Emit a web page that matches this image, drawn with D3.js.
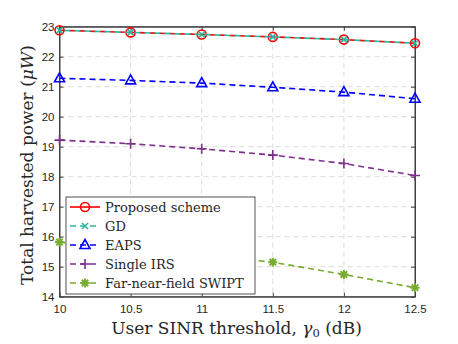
<!DOCTYPE html>
<html>
<head>
<meta charset="utf-8">
<script src="https://cdn.jsdelivr.net/npm/d3@7"></script>
<style>
  body { margin: 0; background: #fff; }
  svg text { fill: #262626; }
</style>
</head>
<body>
<div id="chart"></div>
<script>
(function() {
  'use strict';

  const sinr = [10, 10.5, 11, 11.5, 12, 12.5];
  const proposed = [22.88, 22.81, 22.74, 22.66, 22.57, 22.45];
  const gd = [22.88, 22.81, 22.74, 22.66, 22.57, 22.45];
  const eaps = [21.28, 21.21, 21.12, 20.98, 20.82, 20.6];
  const singleIrs = [19.22, 19.1, 18.93, 18.72, 18.44, 18.04];
  const farNear = [15.82, 15.6, 15.38, 15.15, 14.74, 14.3];
  const xTicks = [10, 10.5, 11, 11.5, 12, 12.5];
  const yTicks = [14, 15, 16, 17, 18, 19, 20, 21, 22, 23];

  const w = 458;
  const h = 344;
  const left = 59.5, right = 415, top = 26.7, bottom = 296.7;
  const serif = 'DejaVu Serif, serif';

  const xScale = d3.scaleLinear().domain([10, 12.5]).range([left, right]);
  const yScale = d3.scaleLinear().domain([14, 23]).range([bottom, top]);

  const svg = d3.select('#chart').append('svg')
    .attr('width', w)
    .attr('height', h);

  // grid
  const grid = svg.append('g');
  grid.selectAll('.gx').data(xTicks.slice(1, -1)).enter().append('line')
    .attr('x1', d => xScale(d)).attr('x2', d => xScale(d))
    .attr('y1', top).attr('y2', bottom)
    .attr('stroke', '#dcdcdc').attr('stroke-width', 1).attr('stroke-dasharray', '5,4');
  grid.selectAll('.gy').data(yTicks.slice(1, -1)).enter().append('line')
    .attr('x1', left).attr('x2', right)
    .attr('y1', d => yScale(d)).attr('y2', d => yScale(d))
    .attr('stroke', '#dcdcdc').attr('stroke-width', 1).attr('stroke-dasharray', '5,4');

  // axes
  const tickFont = 'Liberation Sans, Arial, sans-serif';
  const fmt = d => String(d);
  const xAxis = d3.axisBottom(xScale).tickValues(xTicks).tickFormat(fmt).tickSizeInner(-4).tickSizeOuter(0).tickPadding(8);
  svg.append('g').attr('transform', 'translate(0,' + bottom + ')').call(xAxis);
  const yAxis = d3.axisLeft(yScale).tickValues(yTicks).tickFormat(fmt).tickSizeInner(-4).tickSizeOuter(0).tickPadding(5);
  svg.append('g').attr('transform', 'translate(' + left + ',0)').call(yAxis);
  const xAxisTop = d3.axisTop(xScale).tickValues(xTicks).tickSizeInner(-4).tickSizeOuter(0).tickFormat('');
  svg.append('g').attr('transform', 'translate(0,' + top + ')').call(xAxisTop);
  const yAxisRight = d3.axisRight(yScale).tickValues(yTicks).tickSizeInner(-4).tickSizeOuter(0).tickFormat('');
  svg.append('g').attr('transform', 'translate(' + right + ',0)').call(yAxisRight);
  svg.selectAll('.domain, .tick line').attr('stroke', '#404040');
  svg.selectAll('.tick text').attr('font-family', tickFont).attr('font-size', 11.5).attr('fill', '#262626');

  svg.append('rect')
    .attr('x', left).attr('y', top)
    .attr('width', right - left).attr('height', bottom - top)
    .attr('fill', 'none').attr('stroke', '#404040').attr('stroke-width', 1);

  // series
  const series = [
    { name: 'Proposed scheme', values: proposed, color: '#ff0000', marker: 'circle', legendDash: null },
    { name: 'GD', values: gd, color: '#2cb5a0', marker: 'x', legendDash: '6,4' },
    { name: 'EAPS', values: eaps, color: '#0000ff', marker: 'triangle', legendDash: '6,4' },
    { name: 'Single IRS', values: singleIrs, color: '#7e2f8e', marker: 'plus', legendDash: '6,4' },
    { name: 'Far-near-field SWIPT', values: farNear, color: '#77ac30', marker: 'asterisk', legendDash: '6,4' }
  ];

  function drawMarker(g, type, color, cx, cy) {
    const m = g.append('g').attr('transform', 'translate(' + cx + ',' + cy + ')')
      .attr('fill', 'none').attr('stroke', color).attr('stroke-width', 1.6);
    if (type === 'circle') {
      m.append('circle').attr('r', 4.5);
    } else if (type === 'x') {
      m.append('path').attr('d', 'M-3,-3L3,3M-3,3L3,-3');
    } else if (type === 'triangle') {
      m.append('path').attr('d', 'M0,-5.5L5,3.5L-5,3.5Z');
    } else if (type === 'plus') {
      m.append('path').attr('d', 'M-5,0L5,0M0,-5L0,5');
    } else if (type === 'asterisk') {
      m.append('path').attr('d', 'M-4.5,0L4.5,0M0,-4.5L0,4.5M-3.2,-3.2L3.2,3.2M-3.2,3.2L3.2,-3.2').attr('stroke-width', 2);
    }
  }

  const line = d3.line().x((d, i) => xScale(sinr[i])).y(d => yScale(d));
  // red under teal, teal dashes offset so both show
  const order = [4, 3, 2, 0, 1];
  order.forEach(k => {
    const s = series[k];
    const g = svg.append('g');
    g.append('path').datum(s.values)
      .attr('d', line)
      .attr('fill', 'none')
      .attr('stroke', s.color)
      .attr('stroke-width', 1.6)
      .attr('stroke-dasharray', '6,4')
      .attr('stroke-dashoffset', k === 1 ? 5 : 0);
    s.values.forEach((v, i) => drawMarker(g, s.marker, s.color, xScale(sinr[i]), yScale(v)));
  });

  // legend
  const lx = 66, ly = 197, lw = 189, lh = 97;
  const legend = svg.append('g');
  legend.append('rect')
    .attr('x', lx).attr('y', ly).attr('width', lw).attr('height', lh)
    .attr('fill', '#fff').attr('stroke', '#262626').attr('stroke-width', 0.8);
  series.forEach((s, i) => {
    const yy = ly + 10 + i * 19;
    legend.append('line')
      .attr('x1', lx + 4).attr('x2', lx + 34)
      .attr('y1', yy).attr('y2', yy)
      .attr('stroke', s.color).attr('stroke-width', 1.6)
      .attr('stroke-dasharray', s.legendDash);
    drawMarker(legend, s.marker, s.color, lx + 19, yy);
    legend.append('text')
      .attr('x', lx + 39).attr('y', yy + 4.5)
      .attr('font-family', serif)
      .attr('font-size', 13)
      .text(s.name);
  });

  // axis labels
  const xl = svg.append('text')
    .attr('x', 236.5).attr('y', 334)
    .attr('text-anchor', 'middle')
    .attr('font-family', serif)
    .attr('font-size', 17);
  xl.append('tspan').text('User SINR threshold, ');
  xl.append('tspan').attr('font-style', 'italic').text('γ');
  xl.append('tspan').attr('font-size', 11.5).attr('dy', 3).text('0');
  xl.append('tspan').attr('dy', -3).text(' (dB)');

  const yl = svg.append('text')
    .attr('transform', 'translate(33,165) rotate(-90)')
    .attr('text-anchor', 'middle')
    .attr('font-family', serif)
    .attr('font-size', 17);
  yl.append('tspan').text('Total harvested power (');
  yl.append('tspan').attr('font-style', 'italic').text('μW');
  yl.append('tspan').text(')');
}());
</script>
</body>
</html>
